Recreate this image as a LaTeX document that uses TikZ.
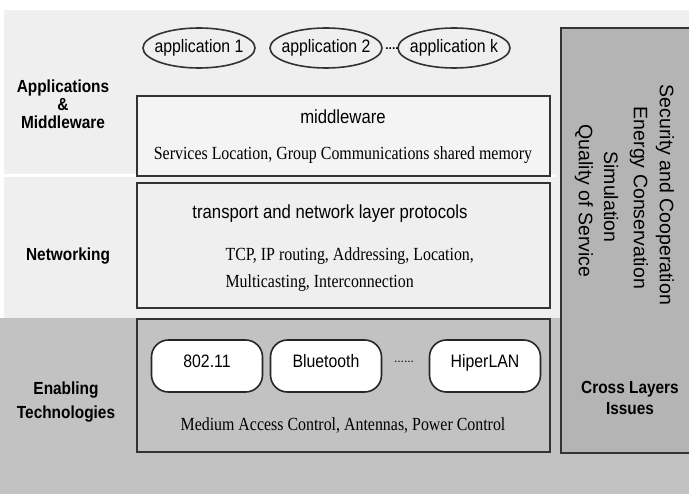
\documentclass[tikz,border=0pt]{standalone}
\usepackage{fontspec}
\setmainfont{Liberation Sans}
\newfontfamily\narrowsans[FakeStretch=0.88]{Liberation Sans}
\newfontfamily\detfont[FakeStretch=0.86]{Liberation Serif}
\usetikzlibrary{shapes,positioning}

\begin{document}
\begin{tikzpicture}[x=1pt,y=-1pt,
    layerbox/.style={draw=black!80, line width=1.8pt},
    appnode/.style={ellipse, draw=black!80, line width=1.6pt, minimum width=112pt, minimum height=40pt, inner xsep=-10pt, inner ysep=0pt, text height=13pt, text depth=4pt, font=\fontsize{18}{20}\narrowsans},
    technode/.style={rounded corners=17pt, draw=black!85, line width=1.6pt, fill=white, minimum width=111pt, minimum height=52pt, inner sep=0pt, text height=13pt, text depth=9pt, font=\fontsize{18}{20}\narrowsans},
    sidelabel/.style={align=center, font=\fontsize{17.5}{18}\narrowsans\bfseries},
    titletext/.style={font=\fontsize{19}{20}\narrowsans},
    dettext/.style={font=\fontsize{18.5}{20}\detfont},
    crosstext/.style={rotate=-90, font=\fontsize{19.5}{20}\selectfont}]
    % Colori di sfondo
    \definecolor{bglight}{RGB}{239,239,239}
    \definecolor{boxlight}{RGB}{244,244,244}
    \definecolor{bgdark}{RGB}{194,194,194}
    \definecolor{crossgray}{RGB}{180,180,180}

    \useasboundingbox (0,0) rectangle (689,494);
    \fill[white] (0,0) rectangle (689,494);

    % Fasce orizzontali
    \fill[bglight] (4,10) rectangle (689,174);
    \fill[bglight] (4,177) rectangle (556,318);
    \fill[bglight] (556,174) rectangle (689,318);
    \fill[bgdark] (0,318) rectangle (689,494);

    % Applications & Middleware
    \node[appnode] (app1) at (199,48) {application 1};
    \node[appnode] (app2) at (326,48) {application 2};
    \node[appnode] (appk) at (454,48) {application k};
    \node[font=\fontsize{12}{12}\selectfont\bfseries] (appdots) at (392,49) {....};
    \draw[layerbox, fill=boxlight] (137,96) rectangle (550,176);
    \node[titletext] (mw) at (343,117) {middleware};
    \node[dettext] (mwdet) at (343,155) {Services Location, Group Communications shared memory};
    \node[sidelabel] (applbl) at (63,104) {Applications\\\&\\Middleware};

    % Networking
    \draw[layerbox, fill=bglight] (137,183) rectangle (550,308);
    \node[titletext] (net) at (330,214) {transport and network layer protocols};
    \node[dettext, anchor=west, align=left, font=\fontsize{18.5}{27}\detfont] (netdet) at (222,270)
        {TCP, IP routing, Addressing, Location,\\Multicasting, Interconnection};
    \node[sidelabel] (netlbl) at (68,256) {Networking};

    % Enabling Technologies
    \draw[layerbox, fill=bgdark] (137,319) rectangle (550,452);
    \node[technode] (wifi) at (207,366) {802.11};
    \node[technode] (bt) at (326,366) {Bluetooth};
    \node[technode] (hiper) at (485,366) {HiperLAN};
    \node[font=\fontsize{12}{12}\selectfont] (techdots) at (404,362) {......};
    \node[dettext] (techdet) at (343,426) {Medium Access Control, Antennas, Power Control};
    \node[sidelabel, font=\fontsize{17.5}{24}\narrowsans\bfseries] (enlbl) at (66,402) {Enabling\\Technologies};

    % Cross Layers
    \draw[layerbox, fill=crossgray] (561,28) rectangle (695,453);
    \node[crosstext] (sec) at (665,195) {Security and Cooperation};
    \node[crosstext] (energy) at (639,198) {Energy Conservation};
    \node[crosstext] (sim) at (611,197) {Simulation};
    \node[crosstext] (qos) at (584,201) {Quality of Service};
    \node[sidelabel, font=\fontsize{17.5}{21}\narrowsans\bfseries] (crosslbl) at (630,398) {Cross Layers\\Issues};
\end{tikzpicture}
\end{document}
